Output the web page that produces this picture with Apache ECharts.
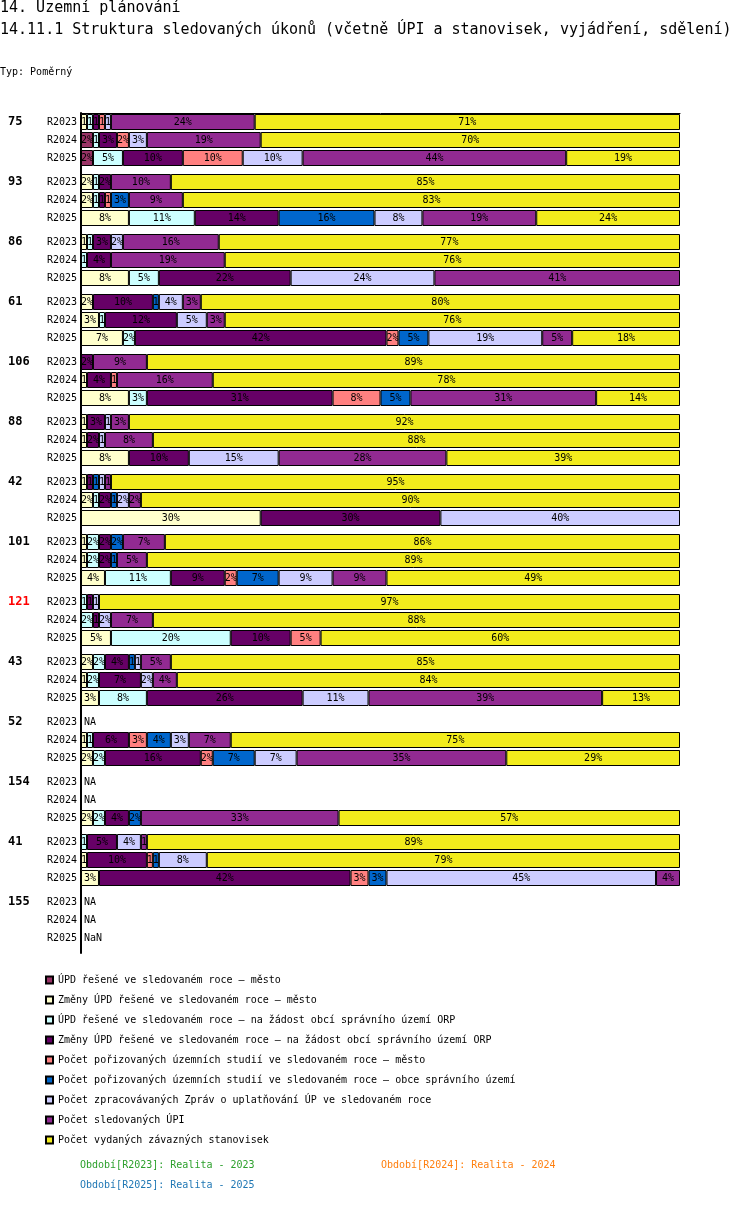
<!DOCTYPE html>
<html>
<head>
<meta charset="utf-8">
<script src="https://cdn.jsdelivr.net/npm/echarts@6/dist/echarts.min.js"></script>
<style>
    html, body { margin: 0; padding: 0; background: #fff; }
    #chart { width: 750px; height: 1224px; }
</style>
</head>
<body>
<div id="chart"></div>
<script>
// groups (ORP) and periods, one row per group x period
const groups = ['75', '93', '86', '61', '106', '88', '42', '101', '121', '43', '52', '154', '41', '155'];
const periods = ['R2023', 'R2024', 'R2025'];
const highlighted = '121';

const seriesNames = [
    'ÚPD řešené ve sledovaném roce – město',
    'Změny ÚPD řešené ve sledovaném roce – město',
    'ÚPD řešené ve sledovaném roce – na žádost obcí správního území ORP',
    'Změny ÚPD řešené ve sledovaném roce – na žádost obcí správního území ORP',
    'Počet pořizovaných územních studií ve sledovaném roce – město',
    'Počet pořizovaných územních studií ve sledovaném roce – obce správního území',
    'Počet zpracovávaných Zpráv o uplatňování ÚP ve sledovaném roce',
    'Počet sledovaných ÚPI',
    'Počet vydaných závazných stanovisek'
];
const colors = ['#993366', '#ffffcc', '#ccffff', '#660066', '#ff8080', '#0066cc', '#ccccff', '#922a92', '#f2ec1c'];

// shares in % per row, null = no data
const updMesto = [0, 2, 2, 0, 0, 0, 0, 0, 0, 0, 0, 0, 0, 0, 0, 0, 0, 0, 0, 0, 0, 0, 0, 0, 0, 0, 0, 0, 0, 0, null, 0, 0, null, null, 0, 0, 0, 0, null, null, null];
const zmenyMesto = [1, 0, 0, 2, 2, 8, 1, 0, 8, 2, 3, 7, 0, 1, 8, 1, 1, 8, 1, 2, 30, 1, 1, 4, 0, 0, 5, 2, 1, 3, null, 1, 2, null, null, 2, 0, 1, 3, null, null, null];
const updOrp = [1, 1, 5, 1, 1, 11, 1, 1, 5, 0, 1, 2, 0, 0, 3, 0, 0, 0, 0, 1, 0, 2, 2, 11, 1, 2, 20, 2, 2, 8, null, 1, 2, null, null, 2, 1, 0, 0, null, null, null];
const zmenyOrp = [1, 3, 10, 2, 1, 14, 3, 4, 22, 10, 12, 42, 2, 4, 31, 3, 2, 10, 1, 2, 30, 2, 2, 9, 1, 1, 10, 4, 7, 26, null, 6, 16, null, null, 4, 5, 10, 42, null, null, null];
const studieMesto = [1, 2, 10, 0, 1, 0, 0, 0, 0, 0, 0, 2, 0, 1, 8, 0, 0, 0, 0, 0, 0, 0, 0, 2, 0, 0, 5, 0, 0, 0, null, 3, 2, null, null, 0, 0, 1, 3, null, null, null];
const studieObce = [0, 0, 0, 0, 3, 16, 0, 0, 0, 1, 0, 5, 0, 0, 5, 0, 0, 0, 1, 1, 0, 2, 1, 7, 0, 0, 0, 1, 0, 0, null, 4, 7, null, null, 2, 0, 1, 3, null, null, null];
const zpravy = [1, 3, 10, 0, 0, 8, 2, 0, 24, 4, 5, 19, 0, 0, 0, 1, 1, 15, 1, 2, 40, 0, 0, 9, 1, 2, 0, 1, 2, 11, null, 3, 7, null, null, 0, 4, 8, 45, null, null, null];
const upi = [24, 19, 44, 10, 9, 19, 16, 19, 41, 3, 3, 5, 9, 16, 31, 3, 8, 28, 1, 2, 0, 7, 5, 9, 0, 7, 0, 5, 4, 39, null, 7, 35, null, null, 33, 1, 0, 4, null, null, null];
const stanoviska = [71, 70, 19, 85, 83, 24, 77, 76, 0, 80, 76, 18, 89, 78, 14, 92, 88, 39, 95, 90, 0, 86, 89, 49, 97, 88, 60, 85, 84, 13, null, 75, 29, null, null, 57, 89, 79, 0, null, null, null];
const values = [updMesto, zmenyMesto, updOrp, zmenyOrp, studieMesto, studieObce, zpravy, upi, stanoviska];

// rows without data and the text shown for them
const missingText = { 30: 'NA', 33: 'NA', 34: 'NA', 39: 'NA', 40: 'NA', 41: 'NaN' };

// each group takes 10 slots: rows sit on slots 1, 4, 7
const slotsPerGroup = 10;
const slots = [];
for (let i = 0; i < groups.length * slotsPerGroup; i++) slots.push('s' + i);
function slotOf(row) {
    return Math.floor(row / 3) * slotsPerGroup + 1 + (row % 3) * 3;
}

const font = 'DejaVu Sans Mono';

let series = values.map(function (arr, k) {
    let data = slots.map(function () { return '-'; });
    arr.forEach(function (v, row) {
        if (v) data[slotOf(row)] = v;
    });
    return {
        name: seriesNames[k],
        type: 'bar',
        stack: 'total',
        barWidth: 16,
        data: data,
        itemStyle: { color: colors[k], borderColor: '#000', borderWidth: 1 },
        label: {
            show: true,
            position: 'inside',
            fontFamily: font,
            fontSize: 10,
            color: '#000',
            formatter: function (p) { return p.value >= 2 ? p.value + '%' : '1'; }
        },
        emphasis: { disabled: true },
        animation: false
    };
});

let naData = slots.map(function () { return '-'; });
Object.keys(missingText).forEach(function (row) { naData[slotOf(+row)] = 0; });
series.push({
    name: 'na',
    type: 'bar',
    stack: 'total',
    barWidth: 16,
    data: naData,
    silent: true,
    itemStyle: { color: 'transparent', borderWidth: 0 },
    label: {
        show: true,
        position: 'right',
        distance: 3,
        fontFamily: font,
        fontSize: 10,
        color: '#000',
        formatter: function (p) {
            let idx = p.dataIndex;
            let row = Math.floor(idx / slotsPerGroup) * 3 + ((idx % slotsPerGroup) - 1) / 3;
            return missingText[row];
        }
    },
    animation: false
});

let myChart = echarts.init(document.getElementById('chart'));
let option = {
    backgroundColor: '#fff',
    animation: false,
    grid: { left: 81, top: 113, width: 599, height: 840 },
    xAxis: {
        type: 'value',
        min: 0,
        max: 100,
        position: 'top',
        axisLine: { show: true, lineStyle: { color: '#000', width: 1 } },
        axisTick: { show: false },
        axisLabel: { show: false },
        splitLine: { show: false }
    },
    yAxis: [
        {
            type: 'category',
            data: slots,
            inverse: true,
            axisLine: { show: true, lineStyle: { color: '#000', width: 2 } },
            axisTick: { show: false },
            axisLabel: {
                interval: 0,
                margin: 4,
                fontFamily: font,
                fontSize: 10,
                color: '#000',
                formatter: function (v, i) {
                    let s = i % slotsPerGroup;
                    return (s === 1 || s === 4 || s === 7) ? periods[(s - 1) / 3] : '';
                }
            }
        },
        {
            type: 'category',
            data: slots,
            inverse: true,
            position: 'left',
            axisLine: { show: false },
            axisTick: { show: false },
            axisLabel: {
                interval: 0,
                align: 'left',
                margin: 73,
                formatter: function (v, i) {
                    if (i % slotsPerGroup !== 1) return '';
                    let g = groups[Math.floor(i / slotsPerGroup)];
                    return g === highlighted ? '{r|' + g + '}' : '{b|' + g + '}';
                },
                rich: {
                    b: { fontFamily: font, fontSize: 12, fontWeight: 'bold', color: '#000' },
                    r: { fontFamily: font, fontSize: 12, fontWeight: 'bold', color: '#ff0000' }
                }
            }
        }
    ],
    legend: {
        data: seriesNames,
        orient: 'vertical',
        left: 45,
        top: 975,
        padding: 0,
        icon: 'rect',
        itemWidth: 7,
        itemHeight: 7,
        itemGap: 10,
        selectedMode: false,
        textStyle: { fontFamily: font, fontSize: 10, lineHeight: 10, color: '#000' }
    },
    graphic: [
        { type: 'text', left: 0, top: 1, style: { text: '14. Územní plánování', fontFamily: font, fontSize: 15, fill: '#000' } },
        { type: 'text', left: 0, top: 23, style: { text: '14.11.1 Struktura sledovaných úkonů (včetně ÚPI a stanovisek, vyjádření, sdělení)', fontFamily: font, fontSize: 15, fill: '#000' } },
        { type: 'text', left: 0, top: 67, style: { text: 'Typ: Poměrný', fontFamily: font, fontSize: 10, fill: '#000' } },
        { type: 'text', left: 80, top: 1160, style: { text: 'Období[R2023]: Realita - 2023', fontFamily: font, fontSize: 10, fill: '#2ca02c' } },
        { type: 'text', left: 381, top: 1160, style: { text: 'Období[R2024]: Realita - 2024', fontFamily: font, fontSize: 10, fill: '#ff7f0e' } },
        { type: 'text', left: 80, top: 1180, style: { text: 'Období[R2025]: Realita - 2025', fontFamily: font, fontSize: 10, fill: '#1f77b4' } }
    ],
    series: series
};
myChart.setOption(option);
window.onresize = function () {
    myChart.resize();
};
</script>
</body>
</html>
